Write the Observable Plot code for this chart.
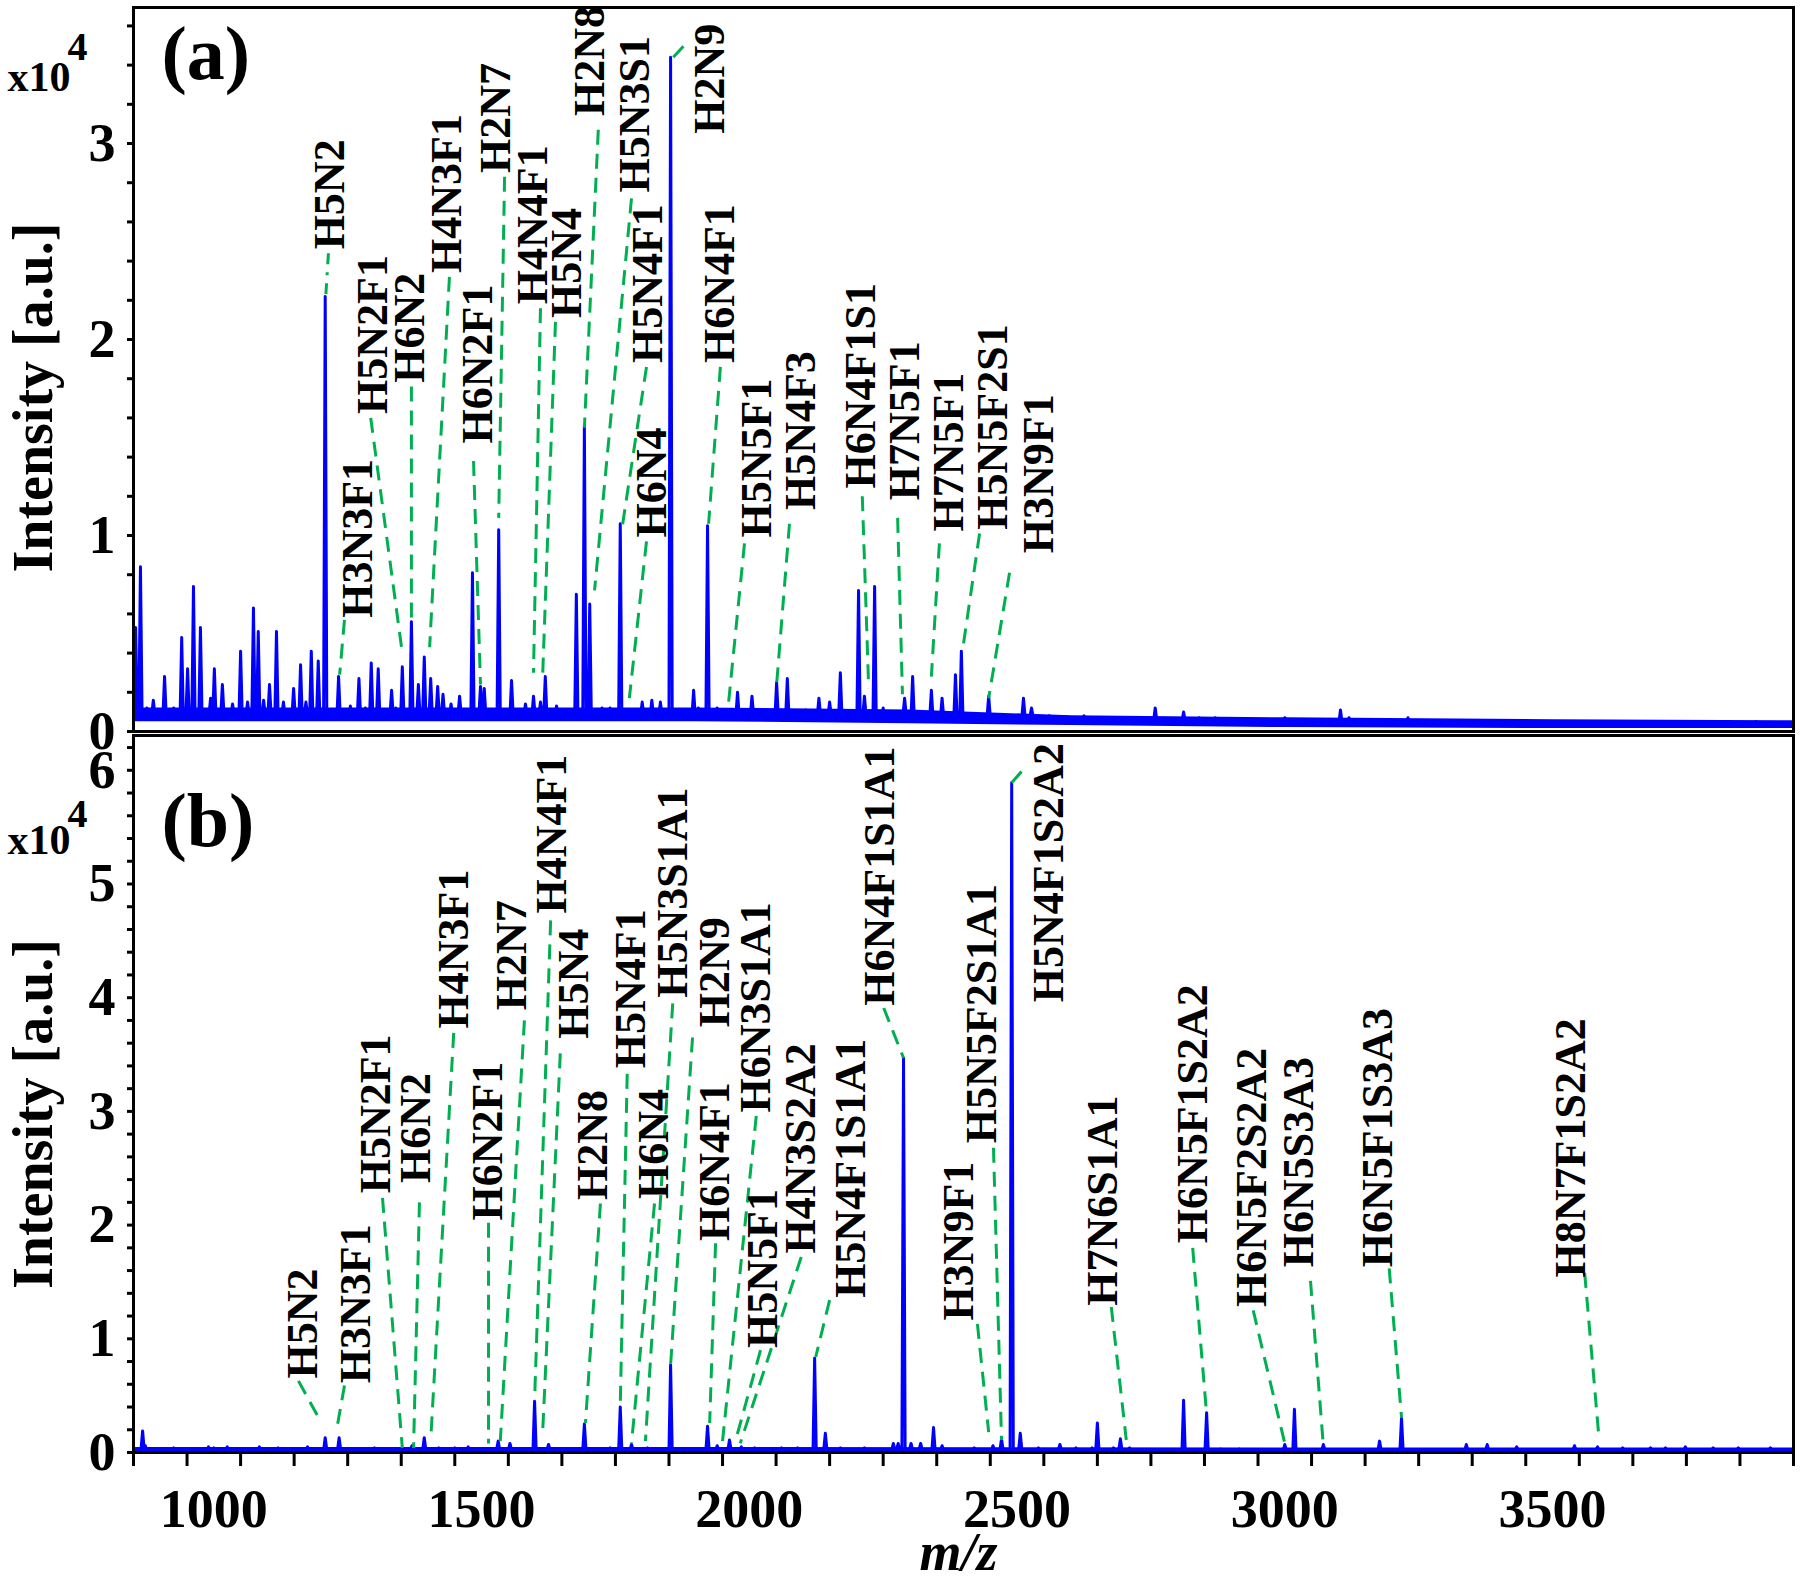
<!DOCTYPE html>
<html><head><meta charset="utf-8">
<script src="https://cdn.jsdelivr.net/npm/d3@7"></script>
<script src="https://cdn.jsdelivr.net/npm/@observablehq/plot@0.6"></script>
<style>
body{margin:0;background:#fff;}
#wrap{position:relative;width:1800px;height:1581px;background:#fff;}
#pa{position:absolute;left:0;top:0;}
#pb{position:absolute;left:0;top:733px;}
</style></head><body><div id="wrap"><div id="pa"></div><div id="pb"></div></div>
<script>
// ---------- shared axis values ----------
const xDomain = [850, 3950];
const xTickMarks = d3.range(850, 3951, 100);
const xTickLabels = [1000, 1500, 2000, 2500, 3000, 3500];
const yTicksA = d3.range(0, 19).map(i => i / 5);   // 0 .. 3.6
const yTicksB = d3.range(0, 32).map(i => i / 5);   // 0 .. 6.2
const yTopA = 3.694, yTopB = 6.306;

// ---------- panel (a) spectrum peaks (m/z, intensity x10^4) ----------
const peakMzA = [854,863,875,887,908,925,940,951,962,975,994,1001,1016,1035,1050,1063,1074,1083,1093,1104,1117,1130,1149,1162,1172,1182,1195,1208,1233,1255,1271,1283,1294,1307,1332,1340,1352,1369,1382,1393,1405,1418,1428,1443,1459,1483,1498,1505,1532,1556,1582,1597,1610,1619,1640,1677,1692,1702,1725,1740,1759,1775,1800,1818,1834,1853,1872,1896,1905,1922,1940,1978,2005,2051,2071,2105,2130,2150,2170,2204,2215,2234,2250,2290,2305,2340,2360,2385,2396,2420,2447,2512,2527,2560,2590,2625,2660,2720,2758,2811,2840,2870,2920,2960,3000,3050,3104,3120,3160,3200,3230,3280,3350,3420,3460,3520,3600,3650,3700,3760,3800,3880];
const peakIntA = [0.53,0.84,0.12,0.16,0.28,0.12,0.48,0.32,0.74,0.53,0.17,0.32,0.24,0.14,0.41,0.15,0.63,0.51,0.16,0.24,0.51,0.15,0.22,0.34,0.15,0.41,0.36,2.22,0.28,0.13,0.27,0.12,0.35,0.32,0.21,0.12,0.33,0.56,0.24,0.38,0.27,0.23,0.19,0.14,0.18,0.81,0.23,0.22,1.03,0.26,0.14,0.18,0.15,0.28,0.13,0.70,1.56,0.65,0.12,0.12,1.06,0.11,0.15,0.16,0.15,3.44,0.11,0.21,0.12,1.05,0.12,0.20,0.18,0.25,0.27,0.11,0.17,0.15,0.30,0.72,0.18,0.74,0.12,0.17,0.28,0.21,0.17,0.29,0.41,0.08,0.18,0.17,0.12,0.08,0.07,0.08,0.07,0.07,0.12,0.10,0.07,0.07,0.06,0.06,0.07,0.06,0.11,0.07,0.06,0.06,0.07,0.05,0.05,0.05,0.05,0.05,0.05,0.05,0.05,0.05,0.05,0.05];
// baseline noise band (a)
const noiseMzA = [850, 1300, 1900, 2300, 2600, 3000, 3500, 3950];
const noiseLoA = [0.05, 0.05, 0.05, 0.04, 0.03, 0.02, 0.015, 0.015];
const noiseHiA = [0.12, 0.12, 0.12, 0.11, 0.08, 0.07, 0.06, 0.055];

// ---------- panel (b) spectrum peaks ----------
const peakMzB = [867,872,925,990,1000,1025,1085,1120,1175,1208,1234,1300,1370,1393,1420,1450,1475,1531,1553,1599,1625,1692,1740,1759,1780,1810,1853,1922,1940,1963,1985,2010,2060,2090,2122,2142,2170,2215,2269,2278,2288,2302,2320,2344,2360,2420,2455,2471,2490,2506,2540,2580,2610,2640,2650,2680,2693,2710,2811,2854,2880,2915,3000,3018,3072,3177,3218,3339,3378,3433,3541,3584,3631,3683,3711,3748,3800,3847,3907];
const peakIntB = [0.19,0.06,0.04,0.05,0.04,0.05,0.05,0.04,0.05,0.13,0.13,0.04,0.06,0.13,0.04,0.04,0.05,0.10,0.08,0.45,0.07,0.25,0.04,0.40,0.07,0.04,0.77,0.23,0.06,0.11,0.05,0.04,0.04,0.04,0.83,0.17,0.04,0.04,0.08,0.08,3.47,0.08,0.08,0.22,0.06,0.04,0.06,0.12,5.89,0.17,0.04,0.07,0.04,0.04,0.26,0.04,0.12,0.04,0.46,0.35,0.03,0.03,0.07,0.38,0.07,0.10,0.30,0.07,0.07,0.05,0.06,0.05,0.04,0.04,0.04,0.05,0.04,0.04,0.04];
const noiseMzB = [850, 2000, 3000, 3950];
const noiseLoB = [0.0, 0.0, 0.0, 0.0];
const noiseHiB = [0.045, 0.045, 0.04, 0.04];

// ---------- panel (a) annotations ----------
const labTextA = ["H5N2","H3N3F1","H5N2F1","H6N2","H4N3F1","H6N2F1","H2N7","H4N4F1","H5N4","H2N8","H5N3S1","H5N4F1","H2N9","H6N4","H6N4F1","H5N5F1","H5N4F3","H6N4F1S1","H7N5F1","H7N5F1","H5N5F2S1","H3N9F1"];
const labXA = [1216,1270,1298,1367,1436,1494,1526,1595,1660,1703,1786,1810,1926,1819,1946,2015,2097,2208,2290,2372,2454,2540];
const labYA = [2.46,0.58,1.62,1.78,2.34,1.47,2.85,2.18,2.11,3.14,2.75,1.88,3.05,0.99,1.88,0.99,1.13,1.24,1.18,1.02,1.03,0.91];
const leadX1A = [1214,1244,1293,1369,1440,1485,1543,1610,1638,1718,1780,1808,1858,1808,1946,1991,2075,2211,2277,2355,2430,2486];
const leadY1A = [2.44,0.57,1.60,1.76,2.32,1.38,2.83,2.16,2.09,3.07,2.72,1.86,3.44,0.97,1.86,0.96,1.06,1.20,1.09,0.96,1.01,0.81];
const leadX2A = [1209,1235,1352,1369,1403,1498,1532,1597,1614,1692,1711,1763,1885,1776,1924,1961,2051,2223,2286,2340,2398,2447];
const leadY2A = [2.22,0.29,0.40,0.58,0.43,0.24,1.09,0.30,0.28,1.55,0.72,1.05,3.52,0.17,1.06,0.14,0.24,0.22,0.19,0.28,0.41,0.17];

// ---------- panel (b) annotations ----------
const labTextB = ["H5N2","H3N3F1","H5N2F1","H6N2","H4N3F1","H6N2F1","H2N7","H4N4F1","H5N4","H2N8","H5N4F1","H6N4","H5N3S1A1","H2N9","H6N4F1","H6N3S1A1","H5N5F1","H4N3S2A2","H5N4F1S1A1","H6N4F1S1A1","H3N9F1","H5N5F2S1A1","H5N4F1S2A2","H7N6S1A1","H6N5F1S2A2","H6N5F2S2A2","H6N5S3A3","H6N5F1S3A3","H8N7F1S2A2"];
const labXB = [1167,1266,1302,1378,1449,1511,1556,1631,1672,1707,1778,1821,1857,1935,1935,2013,2026,2096,2189,2243,2392,2435,2559,2660,2828,2938,3026,3173,3535];
const labYB = [0.65,0.61,2.28,2.37,3.73,2.04,3.89,4.74,3.64,2.22,3.38,2.23,4.00,3.74,1.86,2.99,0.92,1.75,1.36,3.93,1.16,2.72,3.96,1.29,1.84,1.28,1.63,1.63,1.54];
const leadX1B = [1158,1244,1315,1384,1448,1513,1580,1629,1647,1722,1772,1823,1857,1894,1937,2013,2021,2097,2150,2251,2426,2456,2490,2676,2828,2941,3048,3195,3560];
const leadY1B = [0.63,0.59,2.24,2.20,3.69,2.02,3.80,4.68,3.51,2.19,3.33,2.19,3.95,3.65,1.84,2.96,0.90,1.72,1.34,3.91,1.13,2.68,5.89,1.28,1.80,1.25,1.51,1.62,1.58];
const leadX2B = [1201,1229,1352,1373,1405,1513,1535,1599,1614,1694,1759,1780,1806,1853,1926,1950,1974,1983,2124,2288,2447,2471,2514,2704,2854,3001,3072,3218,3586];
const leadY2B = [0.26,0.19,0.04,0.04,0.11,0.08,0.10,0.46,0.17,0.26,0.41,0.08,0.10,0.77,0.26,0.10,0.10,0.08,0.84,3.47,0.18,0.11,6.02,0.11,0.34,0.06,0.06,0.31,0.17];

// ---------- styling ----------
const BLUE = "#0000ff", GREEN = "#00b050";
const FONT = "'Liberation Serif', 'Times New Roman', serif";

// ---------- build tables ----------
function spectrum(mz, inten, kMz, lo, hi) {
  const base = m => { const i = Math.max(0, d3.bisectRight(kMz, m) - 1); return (lo[i] + hi[i]) / 2; };
  const pts = [{mz: kMz[0], v: base(kMz[0])}];
  mz.forEach((m, i) => {
    const b = base(m);
    pts.push({mz: m - 3, v: b}, {mz: m, v: inten[i]}, {mz: m + 3, v: b});
  });
  pts.push({mz: kMz[kMz.length - 1], v: base(kMz[kMz.length - 1])});
  return pts;
}
const noise = (m, lo, hi) => m.map((d, i) => ({mz: d, lo: lo[i], hi: hi[i]}));
const labels = (t, x, y, x1, y1, x2, y2) => t.map((s, i) => ({t: s, x: x[i], y: y[i], x1: x1[i], y1: y1[i], x2: x2[i], y2: y2[i]}));

const specA = spectrum(peakMzA, peakIntA, noiseMzA, noiseLoA, noiseHiA);
const specB = spectrum(peakMzB, peakIntB, noiseMzB, noiseLoB, noiseHiB);
const bandA = noise(noiseMzA, noiseLoA, noiseHiA);
const bandB = noise(noiseMzB, noiseLoB, noiseHiB);
const labsA = labels(labTextA, labXA, labYA, leadX1A, leadY1A, leadX2A, leadY2A);
const labsB = labels(labTextB, labXB, labYB, leadX1B, leadY1B, leadX2B, leadY2B);

const intFmt = d => Math.abs(d - Math.round(d)) < 1e-9 ? String(Math.round(d)) : "";

function linkMarks(labs, dashDotFirst) {
  const a = dashDotFirst ? labs.slice(0, 1) : [];
  const b = dashDotFirst ? labs.slice(1) : labs;
  return [
    Plot.link(b, {x1: "x1", y1: "y1", x2: "x2", y2: "y2", stroke: GREEN, strokeWidth: 3, strokeDasharray: "15,9"}),
    Plot.link(a, {x1: "x1", y1: "y1", x2: "x2", y2: "y2", stroke: GREEN, strokeWidth: 3, strokeDasharray: "11,8,3,8"})
  ];
}
const fixedText = (s, o) => Plot.text([s], {text: d => d, lineAnchor: "middle", fontWeight: "bold", fontFamily: FONT, fill: "black", ...o});

const svgStyle = {fontFamily: FONT, fontWeight: "bold", fontSize: "54px", color: "black", background: "transparent", overflow: "visible"};

// ---------- panel (a) ----------
const plotA = Plot.plot({
  width: 1800, height: 733,
  marginLeft: 133, marginRight: 7, marginTop: 7, marginBottom: 2,
  style: svgStyle,
  x: {domain: xDomain, axis: null, label: null},
  y: {domain: [0, yTopA], axis: null, label: null},
  marks: [
    Plot.areaY(bandA, {x: "mz", y1: "lo", y2: "hi", fill: BLUE}),
    Plot.line(specA, {x: "mz", y: "v", stroke: BLUE, strokeWidth: 3, strokeLinejoin: "round"}),
    ...linkMarks(labsA, true),
    Plot.text(labsA, {x: "x", y: "y", text: "t", rotate: -90, textAnchor: "start", lineAnchor: "middle",
      fontSize: 44, fontWeight: "bold", fontFamily: FONT, fill: "black"}),
    Plot.axisY({ticks: yTicksA, tickSize: 6, tickPadding: 12, tickFormat: intFmt, fontSize: 54,
      fontWeight: "bold", fontFamily: FONT, strokeWidth: 3}),
    Plot.frame({stroke: "black", strokeWidth: 3}),
    fixedText("(a)", {frameAnchor: "top-left", textAnchor: "start", dx: 28, dy: 47, fontSize: 76}),
    fixedText("x10", {frameAnchor: "top-left", textAnchor: "start", dx: -126, dy: 70, fontSize: 42}),
    fixedText("4", {frameAnchor: "top-left", textAnchor: "start", dx: -66, dy: 40, fontSize: 40}),
    fixedText("Intensity [a.u.]", {frameAnchor: "left", rotate: -90, textAnchor: "middle", dx: -99, dy: 28, fontSize: 56})
  ]
});
document.getElementById("pa").appendChild(plotA);

// ---------- panel (b) ----------
const plotB = Plot.plot({
  width: 1800, height: 848,
  marginLeft: 133, marginRight: 7, marginTop: 2, marginBottom: 129,
  style: svgStyle,
  x: {domain: xDomain, axis: null, label: null},
  y: {domain: [0, yTopB], axis: null, label: null},
  marks: [
    Plot.areaY(bandB, {x: "mz", y1: "lo", y2: "hi", fill: BLUE}),
    Plot.line(specB, {x: "mz", y: "v", stroke: BLUE, strokeWidth: 3, strokeLinejoin: "round"}),
    ...linkMarks(labsB, false),
    Plot.text(labsB, {x: "x", y: "y", text: "t", rotate: -90, textAnchor: "start", lineAnchor: "middle",
      fontSize: 44, fontWeight: "bold", fontFamily: FONT, fill: "black"}),
    Plot.axisY({ticks: yTicksB, tickSize: 6, tickPadding: 12, tickFormat: intFmt, fontSize: 54,
      fontWeight: "bold", fontFamily: FONT, strokeWidth: 3}),
    Plot.axisX({ticks: xTickMarks, tickSize: 14, tickFormat: () => "", strokeWidth: 3}),
    Plot.axisX({ticks: xTickLabels, tickSize: 0, tickPadding: 36, tickFormat: d => String(d),
      fontSize: 54, fontWeight: "bold", fontFamily: FONT}),
    Plot.frame({stroke: "black", strokeWidth: 3}),
    fixedText("(b)", {frameAnchor: "top-left", textAnchor: "start", dx: 28, dy: 86, fontSize: 76}),
    fixedText("x10", {frameAnchor: "top-left", textAnchor: "start", dx: -126, dy: 105, fontSize: 42}),
    fixedText("4", {frameAnchor: "top-left", textAnchor: "start", dx: -66, dy: 79, fontSize: 40}),
    fixedText("Intensity [a.u.]", {frameAnchor: "left", rotate: -90, textAnchor: "middle", dx: -99, dy: 20, fontSize: 56}),
    fixedText("m/z", {frameAnchor: "bottom", textAnchor: "middle", dx: -5, dy: 100, fontSize: 54, fontStyle: "italic"})
  ]
});
document.getElementById("pb").appendChild(plotB);
</script>
</body></html>
